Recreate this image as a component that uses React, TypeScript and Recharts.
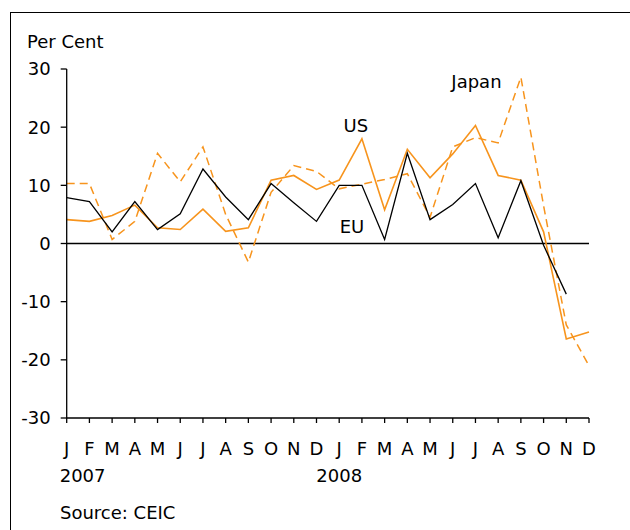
import React from 'react';
import { LineChart, Line, XAxis, YAxis, ReferenceLine, ReferenceDot } from 'recharts';

const categories = [
  'Jan 07', 'Feb 07', 'Mar 07', 'Apr 07', 'May 07', 'Jun 07', 'Jul 07', 'Aug 07', 'Sep 07', 'Oct 07', 'Nov 07', 'Dec 07',
  'Jan 08', 'Feb 08', 'Mar 08', 'Apr 08', 'May 08', 'Jun 08', 'Jul 08', 'Aug 08', 'Sep 08', 'Oct 08', 'Nov 08', 'Dec 08',
];
const monthLetters = ['J', 'F', 'M', 'A', 'M', 'J', 'J', 'A', 'S', 'O', 'N', 'D', 'J', 'F', 'M', 'A', 'M', 'J', 'J', 'A', 'S', 'O', 'N', 'D'];
const yearLabels = ['2007', '', '', '', '', '', '', '', '', '', '', '', '2008', '', '', '', '', '', '', '', '', '', '', ''];

const usValues = [4.1, 3.8, 4.8, 6.6, 2.7, 2.4, 5.9, 2.1, 2.7, 10.9, 11.7, 9.3, 10.9, 18.0, 5.8, 16.2, 11.3, 15.4, 20.3, 11.7, 10.9, 2.0, -16.4, -15.2];
const euValues = [7.9, 7.2, 2.0, 7.2, 2.4, 5.1, 12.8, 8.0, 4.1, 10.3, 7.0, 3.8, 10.0, 10.0, 0.7, 15.5, 4.1, 6.7, 10.3, 1.0, 10.8, -0.3, -8.7, null];
const japanValues = [10.3, 10.3, 0.7, 3.8, 15.5, 10.6, 16.6, 5.0, -3.2, 8.8, 13.4, 12.4, 9.4, 10.2, 11.0, 12.0, 4.5, 16.6, 18.2, 17.3, 28.6, 6.5, -14.0, -21.0];

const yTicks = [-30, -20, -10, 0, 10, 20, 30];

const data = categories.map((c, i) => ({
  period: c,
  us: usValues[i],
  eu: euValues[i],
  japan: japanValues[i],
}));

const ORANGE = '#F7941D';
const FONT = '"DejaVu Sans", Verdana, sans-serif';

const MonthTick = (props: any) => {
  const { x, y, index } = props;
  const year = yearLabels[index];
  return (
    <g>
      <text x={x} y={y + 30} textAnchor="middle" fontSize={18} fill="#000" fontFamily={FONT}>
        {monthLetters[index]}
      </text>
      {year && (
        <text x={index === 0 ? x - 7 : x} y={y + 57} textAnchor={index === 0 ? 'start' : 'middle'} fontSize={18} fill="#000" fontFamily={FONT}>
          {year}
        </text>
      )}
    </g>
  );
};

const seriesLabel = (text: string, dx: number) => (props: any) => {
  const { viewBox } = props;
  return (
    <text x={viewBox.x + dx} y={viewBox.y + 6} textAnchor="middle" fontSize={18} fill="#000" fontFamily={FONT}>
      {text}
    </text>
  );
};

export default function App() {
  return (
    <div style={{ position: 'absolute', left: 0, top: 0, width: 630, height: 530, overflow: 'hidden', background: '#fff', fontFamily: FONT }}>
      <div style={{ position: 'absolute', left: 10, top: 12, width: 700, height: 600, borderTop: '1.5px solid #000', borderLeft: '1.5px solid #000' }} />
      <div style={{ position: 'absolute', left: 27, top: 31, fontSize: 18, color: '#000' }}>Per Cent</div>
      <div style={{ position: 'absolute', left: 60, top: 502, fontSize: 18, color: '#000' }}>Source: CEIC</div>
      <div style={{ position: 'absolute', left: 0, top: 0 }}>
        <LineChart width={630} height={530} data={data} margin={{ top: 69, right: 41, bottom: 42, left: 10 }}>
          <XAxis
            dataKey="period"
            scale="point"
            padding={{ left: 0, right: 0 }}
            interval={0}
            height={70}
            tickSize={5}
            tickMargin={2}
            axisLine={{ stroke: '#000', strokeWidth: 1.3 }}
            tickLine={{ stroke: '#000', strokeWidth: 1.3 }}
            tick={<MonthTick />}
          />
          <YAxis
            domain={[-30, 30]}
            ticks={yTicks}
            interval={0}
            width={56.7}
            tickSize={6}
            tickMargin={10}
            axisLine={{ stroke: '#000', strokeWidth: 1.3 }}
            tickLine={{ stroke: '#000', strokeWidth: 1.3 }}
            tick={{ fill: '#000', fontSize: 18, fontFamily: FONT }}
          />
          <ReferenceLine y={0} stroke="#000" strokeWidth={1.5} />
          <Line dataKey="japan" stroke={ORANGE} strokeWidth={1.5} strokeDasharray="8 5" dot={false} isAnimationActive={false} />
          <Line dataKey="us" stroke={ORANGE} strokeWidth={1.6} dot={false} isAnimationActive={false} />
          <Line dataKey="eu" stroke="#000" strokeWidth={1.3} dot={false} connectNulls={false} isAnimationActive={false} />
          <ReferenceDot x="Feb 08" y={20.2} r={0} label={seriesLabel('US', -6)} />
          <ReferenceDot x="Feb 08" y={2.8} r={0} label={seriesLabel('EU', -10)} />
          <ReferenceDot x="Jul 08" y={27.8} r={0} label={seriesLabel('Japan', 1)} />
        </LineChart>
      </div>
    </div>
  );
}
